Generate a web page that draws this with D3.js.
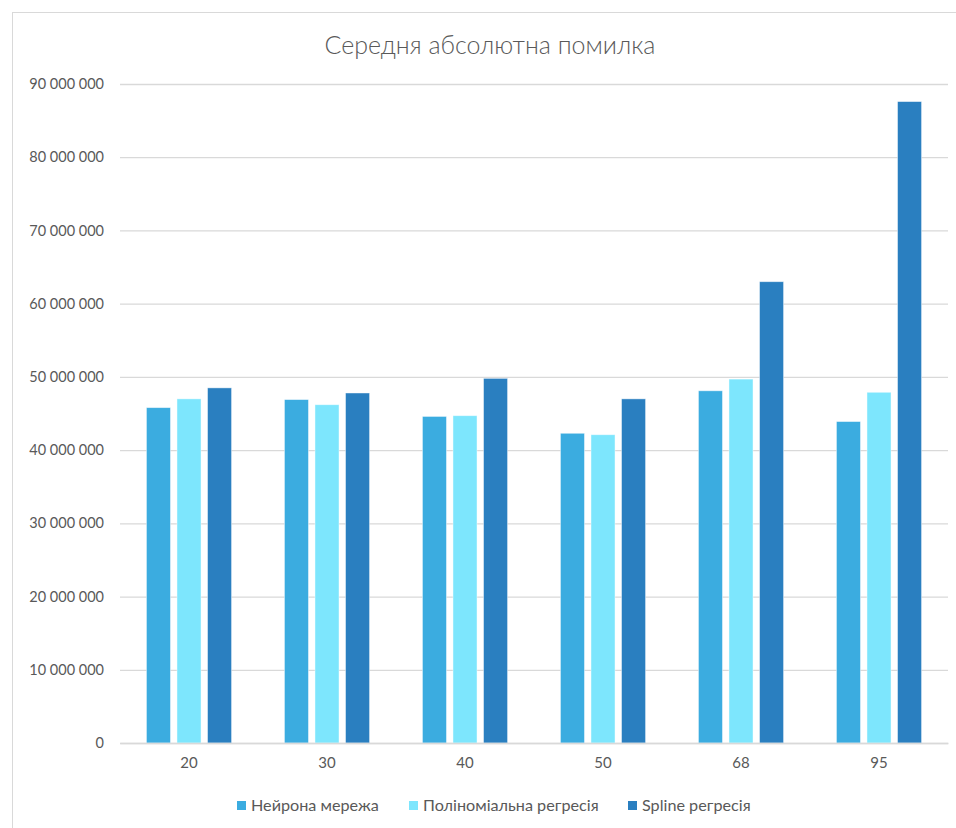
<!DOCTYPE html>
<html>
<head>
<meta charset="utf-8">
<script src="https://cdn.jsdelivr.net/npm/d3@7"></script>
<style>
  html, body { margin: 0; padding: 0; background: #fff; }
  svg { display: block; font-family: Lato, "Open Sans", sans-serif; }
</style>
</head>
<body>
<svg id="chart" width="956" height="828"></svg>
<script>
// Mean absolute error by sample size for three models
const categories = ["20", "30", "40", "50", "68", "95"];
const seriesNames = ["Нейрона мережа", "Поліноміальна регресія", "Spline регресія"];
const neuralNet = [45.8e6, 46.9e6, 44.6e6, 42.3e6, 48.1e6, 43.9e6];
const polyReg   = [47.0e6, 46.2e6, 44.7e6, 42.1e6, 49.7e6, 47.9e6];
const splineReg = [48.5e6, 47.8e6, 49.8e6, 47.0e6, 63.0e6, 87.6e6];
const yTicks = [0, 10e6, 20e6, 30e6, 40e6, 50e6, 60e6, 70e6, 80e6, 90e6];
const colors = ["#3BACE0", "#7DE6FD", "#2A7FC0"];

const seriesValues = [neuralNet, polyReg, splineReg];
const rows = categories.map((c, i) => ({
  cat: c,
  vals: seriesNames.map((s, k) => ({ key: s, value: seriesValues[k][i], color: colors[k] }))
}));

const svg = d3.select("#chart");
const W = 956, H = 828;

// outer chart frame
svg.append("rect")
  .attr("x", 12.5).attr("y", 12.5)
  .attr("width", W + 10).attr("height", H + 10)
  .attr("fill", "none").attr("stroke", "#d9d9d9").attr("stroke-width", 1);

const plot = { left: 120, right: 948, top: 84, bottom: 743 };

const x0 = d3.scaleBand().domain(categories).range([plot.left, plot.right]).padding(0);
const groupFrac = 0.617;
const x1 = d3.scaleBand().domain(seriesNames)
  .range([0, x0.bandwidth() * groupFrac]).paddingInner(0.213).paddingOuter(0);
const groupOffset = x0.bandwidth() * (1 - groupFrac) / 2;

const y = d3.scaleLinear().domain([0, 90e6]).range([plot.bottom, plot.top]);

// title
svg.append("text")
  .attr("x", 490).attr("y", 54)
  .attr("text-anchor", "middle")
  .attr("fill", "#595959")
  .style("font-size", "25px")
  .style("font-weight", 300)
  .text("Середня абсолютна помилка");

// gridlines + y labels
const fmt = v => d3.format(",")(v).replace(/,/g, " ");
const yAxis = d3.axisLeft(y).tickValues(yTicks).tickSize(-(plot.right - plot.left)).tickPadding(16)
  .tickFormat(fmt);
const gy = svg.append("g").attr("transform", `translate(${plot.left},0)`).call(yAxis);
gy.select(".domain").remove();
gy.selectAll(".tick line").attr("stroke", "#d9d9d9").attr("stroke-width", 1.3);
gy.selectAll(".tick text").attr("fill", "#595959").style("font-size", "14.5px")
  .style("font-family", "Lato, 'Open Sans', sans-serif");

// bars
const groups = svg.append("g").selectAll("g").data(rows).join("g")
  .attr("transform", d => `translate(${x0(d.cat) + groupOffset},0)`);
groups.selectAll("rect").data(d => d.vals).join("rect")
  .attr("x", d => x1(d.key))
  .attr("width", x1.bandwidth())
  .attr("y", d => y(d.value))
  .attr("height", d => y(0) - y(d.value))
  .attr("fill", d => d.color)
  .attr("stroke", "rgba(255,255,255,0.55)")
  .attr("stroke-width", 0.8);

// x axis
const xAxis = d3.axisBottom(x0).tickSize(0).tickPadding(14);
const gx = svg.append("g").attr("transform", `translate(0,${plot.bottom})`).call(xAxis);
gx.select(".domain").attr("stroke", "#d9d9d9").attr("stroke-width", 1.3);
gx.selectAll(".tick text").attr("fill", "#595959").style("font-size", "15px")
  .style("font-family", "Lato, 'Open Sans', sans-serif");

// legend
const legendX = [237, 409, 628];
const lg = svg.append("g").selectAll("g").data(seriesNames).join("g")
  .attr("transform", (d, i) => `translate(${legendX[i]},801)`);
lg.append("rect").attr("width", 9).attr("height", 9).attr("fill", (d, i) => colors[i]);
lg.append("text").attr("x", 14).attr("y", 10)
  .attr("fill", "#595959").style("font-size", "16.2px")
  .text(d => d);
</script>
</body>
</html>
